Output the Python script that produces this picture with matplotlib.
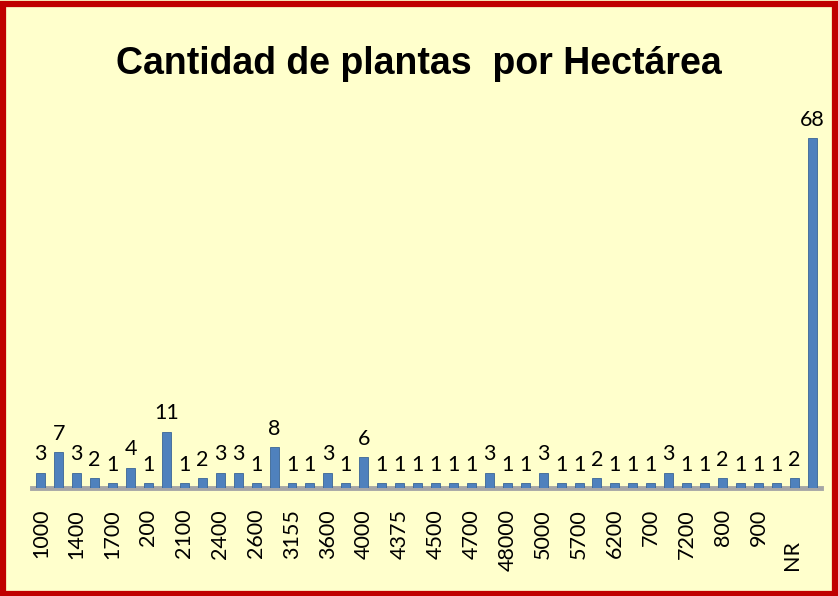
import matplotlib
matplotlib.use('Agg')
import matplotlib.pyplot as plt
from matplotlib.patches import Rectangle
import numpy as np

# visible category labels (Excel shows every other one)
labels_shown = ['1000', '1400', '1700', '200', '2100', '2400', '2600', '3155', '3600',
                '4000', '4375', '4500', '4700', '48000', '5000', '5700', '6200', '700',
                '7200', '800', '900', 'NR      ']
counts = [3, 7, 3, 2, 1, 4, 1, 11, 1, 2, 3, 3, 1, 8, 1, 1, 3, 1, 6, 1, 1, 1,
          1, 1, 1, 3, 1, 1, 3, 1, 1, 2, 1, 1, 1, 3, 1, 1, 2, 1, 1, 1, 2, 68]
title = 'Cantidad de plantas  por Hectárea'

bg = '#FFFFCC'
bar_color = '#4F81BD'

fig = plt.figure(figsize=(8.38, 5.96), dpi=100, facecolor=bg)
fig.patches.append(Rectangle((0.003, 0.004), 0.994, 0.99, transform=fig.transFigure,
                             facecolor='none', edgecolor='#C00000', linewidth=4.5))

ax = fig.add_axes([0.038, 0.181, 0.942, 0.604])
ax.set_facecolor(bg)

x = np.arange(len(counts))
bars = ax.bar(x, counts, width=0.5, color=bar_color, edgecolor='#3A6596', linewidth=0.6, zorder=3)
ax.bar_label(bars, labels=[str(c) for c in counts], padding=6,
             fontsize=15.5, family='Lato', color='black')

ax.set_xlim(-0.5, len(counts) - 0.5)
ax.set_ylim(0, 70)
ax.set_xticks(x[::2])
ax.set_xticklabels(labels_shown, rotation=90, fontsize=15.5, family='Lato', va='top')
ax.tick_params(axis='x', length=0, pad=15)
ax.set_yticks([])

for s in ['top', 'right', 'left']:
    ax.spines[s].set_visible(False)
ax.spines['bottom'].set_color('#A6A6A6')
ax.spines['bottom'].set_linewidth(3.5)
ax.spines['bottom'].set_zorder(2)

fig.text(0.5, 0.893, title, ha='center', va='center', fontsize=27, fontweight='bold',
         family='Liberation Sans')

fig.savefig('out.png', dpi=100, facecolor=bg)
